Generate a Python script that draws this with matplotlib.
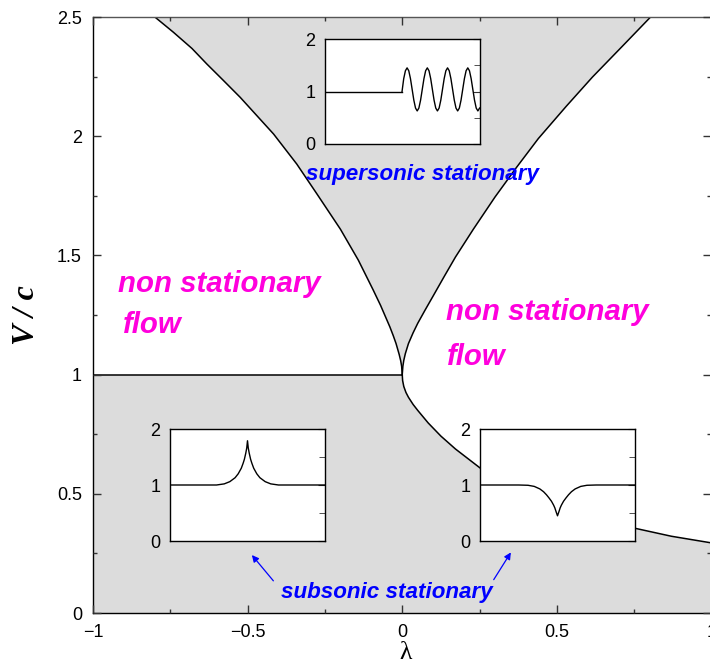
import numpy as np
import matplotlib
matplotlib.use("Agg")
import matplotlib.pyplot as plt
from matplotlib.ticker import MultipleLocator

# ---- data ----
# left boundary of the supersonic stationary region (lambda, V/c)
sup_left_lam = [0.0, -0.002, -0.005, -0.01, -0.02, -0.029, -0.04, -0.07, -0.094, -0.142, -0.20,
                -0.276, -0.341, -0.416, -0.47, -0.524, -0.58, -0.632, -0.68, -0.74, -0.80]
sup_left_v   = [1.0, 1.035, 1.058, 1.085, 1.13, 1.163, 1.20, 1.29, 1.355, 1.48, 1.61,
                1.758, 1.883, 2.009, 2.086, 2.163, 2.236, 2.303, 2.368, 2.436, 2.5]
# right boundary of the supersonic stationary region
sup_right_lam = [0.0, 0.002, 0.005, 0.01, 0.02, 0.035, 0.05, 0.074, 0.1, 0.135, 0.172, 0.23,
                 0.30, 0.37, 0.44, 0.53, 0.615, 0.71, 0.803]
sup_right_v   = [1.0, 1.035, 1.06, 1.088, 1.13, 1.175, 1.215, 1.271, 1.33, 1.41, 1.493, 1.61,
                 1.745, 1.87, 1.99, 2.125, 2.248, 2.375, 2.5]
# upper boundary of the subsonic stationary region (lambda > 0)
sub_lam = [0.0, 0.0012, 0.005, 0.012, 0.02, 0.035, 0.05, 0.084, 0.125, 0.172, 0.252, 0.33,
           0.42, 0.53, 0.64, 0.754, 0.87, 1.0]
sub_v   = [1.0, 0.975, 0.95, 0.925, 0.905, 0.875, 0.85, 0.797, 0.742, 0.688, 0.608, 0.553,
           0.50, 0.45, 0.402, 0.355, 0.322, 0.294]

xticks = [-1, -0.5, 0, 0.5, 1]
xticklabels = ["\u22121", "\u22120.5", "0", "0.5", "1"]
yticks = [0, 0.5, 1, 1.5, 2, 2.5]
yticklabels = ["0", "0.5", "1", "1.5", "2", "2.5"]

# inset profiles (x in [0,1], density in [0,2])
wave_flat_x = [0.0, 0.497]
wave_flat_y = [1.0, 1.0]
wave_y = [1.0, 1.245, 1.395, 1.45, 1.395, 1.245, 1.04, 0.835, 0.685, 0.63, 0.685, 0.835,
          1.04, 1.245, 1.395, 1.45, 1.395, 1.245, 1.04, 0.835, 0.685, 0.63, 0.685, 0.835,
          1.04, 1.245, 1.395, 1.45, 1.395, 1.245, 1.04, 0.835, 0.685, 0.63, 0.685, 0.835,
          1.04, 1.245, 1.395, 1.45, 1.395, 1.245, 1.04, 0.835, 0.685, 0.63, 0.685]
peak_x = [0.0, 0.30, 0.35, 0.386, 0.42, 0.44, 0.46, 0.472, 0.48, 0.489, 0.495, 0.5,
          0.505, 0.511, 0.52, 0.528, 0.54, 0.56, 0.58, 0.614, 0.65, 0.70, 1.0]
peak_y = [1.0, 1.0, 1.02, 1.06, 1.13, 1.20, 1.30, 1.39, 1.46, 1.57, 1.66, 1.79,
          1.66, 1.57, 1.46, 1.39, 1.30, 1.20, 1.13, 1.06, 1.02, 1.0, 1.0]
dip_x = [0.0, 0.25, 0.31, 0.35, 0.386, 0.41, 0.429, 0.445, 0.461, 0.475, 0.483, 0.49, 0.5,
         0.51, 0.517, 0.525, 0.539, 0.555, 0.571, 0.59, 0.614, 0.65, 0.69, 0.75, 1.0]
dip_y = [1.0, 1.0, 0.995, 0.975, 0.93, 0.88, 0.825, 0.77, 0.71, 0.64, 0.59, 0.53, 0.45,
         0.53, 0.59, 0.64, 0.71, 0.77, 0.825, 0.88, 0.93, 0.975, 0.995, 1.0, 1.0]

GRAY = "#dcdcdc"
SANS = "Liberation Sans"
SERIF = "Liberation Serif"

W, H = 710, 667
fig = plt.figure(figsize=(W / 100, H / 100), dpi=100)
ax = fig.add_axes([93 / W, 1 - 613 / H, (711.5 - 93) / W, (613 - 17) / H])
ax.set_xlim(-1, 1)
ax.set_ylim(0, 2.5)

# lower shaded region
low_lam = [-1.0] + sub_lam
low_v = [1.0] + sub_v
ax.fill_between(low_lam, 0, low_v, color=GRAY, lw=0, zorder=0)
# upper shaded region: polygon bounded by the two curves and the top edge
ax.fill(sup_left_lam + sup_right_lam[::-1], sup_left_v + sup_right_v[::-1],
        color=GRAY, lw=0, zorder=0)

ax.plot(sup_left_lam, sup_left_v, color="black", lw=1.1, zorder=2)
ax.plot(sup_right_lam, sup_right_v, color="black", lw=1.1, zorder=2)
ax.plot(sub_lam, sub_v, color="black", lw=1.1, zorder=2)
ax.plot([-1, 0], [1, 1], color="black", lw=1.1, zorder=2)

ax.set_xticks(xticks)
ax.set_xticklabels(xticklabels)
ax.set_yticks(yticks)
ax.set_yticklabels(yticklabels)
ax.xaxis.set_minor_locator(MultipleLocator(0.25))
ax.yaxis.set_minor_locator(MultipleLocator(0.25))
ax.tick_params(which="both", direction="in", top=True, right=True, color="#333333", width=1)
ax.tick_params(which="major", length=6, pad=8, labelsize=13)
ax.tick_params(which="minor", length=3)
for lab in ax.get_xticklabels() + ax.get_yticklabels():
    lab.set_family(SANS)
for s in ax.spines.values():
    s.set_linewidth(1.0)
ax.spines["top"].set_color("#555555")
ax.set_axisbelow(False)

# axis labels
fig.text(27 / W, 1 - 315 / H, "V / c", rotation=90, ha="center", va="center",
         fontsize=23, family=SERIF, fontweight="bold", fontstyle="italic")
fig.text(406 / W, 1 - 659 / H, "\u03bb", ha="center", va="baseline",
         fontsize=18.5, family=SERIF)

txt_kw = dict(family=SANS, fontweight="bold", fontstyle="italic")
ax.text(-0.919, 1.346, "non stationary", color="#ff00dd", fontsize=21.2, va="baseline", **txt_kw)
ax.text(-0.903, 1.174, "flow", color="#ff00dd", fontsize=21.2, va="baseline", **txt_kw)
ax.text(0.142, 1.229, "non stationary", color="#ff00dd", fontsize=21.2, va="baseline", **txt_kw)
ax.text(0.146, 1.040, "flow", color="#ff00dd", fontsize=21.2, va="baseline", **txt_kw)
ax.text(0.065, 1.816, "supersonic stationary", color="#0000ff", fontsize=16.1, ha="center",
        va="baseline", **txt_kw)
ax.text(-0.05, 0.063, "subsonic stationary", color="#0000ff", fontsize=16.1, ha="center",
        va="baseline", **txt_kw)
ax.annotate("", xy=(-0.492, 0.252), xytext=(-0.411, 0.126),
            arrowprops=dict(arrowstyle="-|>", color="#0000ff", lw=0.9, mutation_scale=10))
ax.annotate("", xy=(0.356, 0.264), xytext=(0.291, 0.130),
            arrowprops=dict(arrowstyle="-|>", color="#0000ff", lw=0.9, mutation_scale=10))


def make_inset(x0, y0, x1, y1):
    iax = fig.add_axes([x0 / W, 1 - y1 / H, (x1 - x0) / W, (y1 - y0) / H])
    iax.set_xlim(0, 1)
    iax.set_ylim(0, 2)
    iax.set_facecolor("white")
    iax.set_xticks([])
    iax.set_yticks([0, 1, 2])
    iax.set_yticklabels(["0", "1", "2"])
    iax.yaxis.set_minor_locator(MultipleLocator(0.5))
    iax.tick_params(axis="y", which="both", direction="in", left=False, right=True,
                    labelleft=True, labelright=False, color="#333333")
    iax.tick_params(axis="y", which="major", length=5, pad=7, labelsize=13)
    iax.tick_params(axis="y", which="minor", length=4)
    for lab in iax.get_yticklabels():
        lab.set_family(SANS)
    for s in iax.spines.values():
        s.set_linewidth(1.0)
    return iax


ia = make_inset(325, 39, 480, 144)
ia.plot(wave_flat_x, wave_flat_y, color="black", lw=1.0)
ia.plot(np.linspace(0.497, 0.497 + 0.010875 * (len(wave_y) - 1), len(wave_y)), wave_y,
        color="black", lw=1.0)

ib = make_inset(170, 429, 325, 541)
ib.plot(peak_x, peak_y, color="black", lw=1.0)

ic = make_inset(480, 429, 635, 541)
ic.plot(dip_x, dip_y, color="black", lw=1.0)

fig.savefig("out.png", dpi=100)
